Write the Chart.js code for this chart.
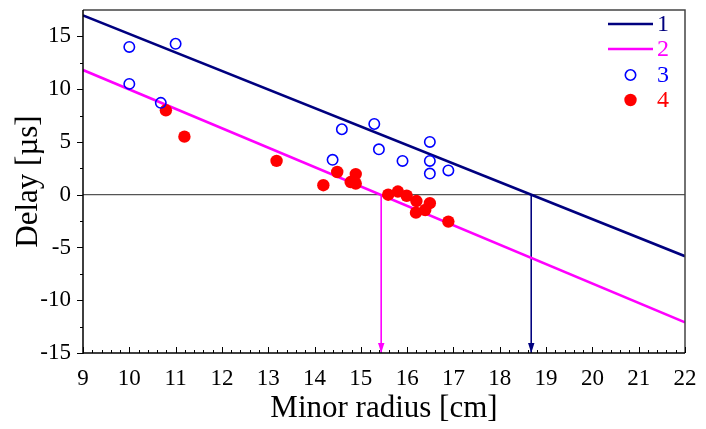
<!DOCTYPE html>
<html>
<head>
<meta charset="utf-8">
<script src="https://cdn.jsdelivr.net/npm/chart.js@4/dist/chart.umd.min.js"></script>
<style>
  body { margin: 0; background: #fff; }
</style>
</head>
<body>
<canvas id="myChart" width="706" height="429"></canvas>
<script>
// tick labels
const xTicks = [9, 10, 11, 12, 13, 14, 15, 16, 17, 18, 19, 20, 21, 22];
const yTicks = [-15, -10, -5, 0, 5, 10, 15];

// fitted lines (1, 2) - end points at the axis limits
const lineX = [9, 22];
const line1Y = [16.99, -5.83];
const line2Y = [11.81, -12.1];

// zero line and arrows where the lines cross zero
const zeroX = [9, 22];
const zeroY = [0, 0];
const arrowX = [15.44, 18.68];
const arrowY = [0, -15];

// series 3 (open circles)
const s3X = [10.0, 10.0, 11.0, 10.68, 14.39, 14.59, 15.29, 15.39, 15.9, 16.49, 16.49, 16.49, 16.89];
const s3Y = [14.0, 10.5, 14.3, 8.7, 3.3, 6.2, 6.7, 4.3, 3.2, 5.0, 3.2, 2.0, 2.3];

// series 4 (filled)
const s4X = [10.79, 11.19, 13.18, 14.19, 14.49, 14.89, 14.78, 14.89, 15.59, 15.8, 15.99, 16.2, 16.49, 16.39, 16.19, 16.89];
const s4Y = [8.0, 5.5, 3.2, 0.9, 2.15, 1.95, 1.2, 1.05, 0.0, 0.3, -0.1, -0.6, -0.8, -1.45, -1.7, -2.55];

const legendLabels = ['1', '2', '3', '4'];

const NAVY = '#00007f';
const MAGENTA = '#ff00ff';
const BLUE = '#0000ff';
const RED = '#ff0000';
const SERIF = '"Liberation Serif", "Times New Roman", serif';

function pts(xs, ys) {
  return xs.map((x, i) => ({ x: x, y: ys[i] }));
}

const data = {
  datasets: [
    {
      label: legendLabels[2],
      data: pts(s3X, s3Y),
      pointStyle: 'circle',
      pointRadius: 5.2,
      pointBorderWidth: 1.6,
      borderColor: BLUE,
      backgroundColor: 'rgba(0,0,0,0)',
      order: 0
    },
    {
      label: legendLabels[3],
      data: pts(s4X, s4Y),
      pointStyle: 'circle',
      pointRadius: 6.2,
      pointBorderWidth: 0,
      borderColor: RED,
      backgroundColor: RED,
      order: 0
    },
    {
      label: legendLabels[0],
      data: pts(lineX, line1Y),
      showLine: true,
      borderColor: NAVY,
      borderWidth: 2.6,
      pointRadius: 0,
      order: 1
    },
    {
      label: legendLabels[1],
      data: pts(lineX, line2Y),
      showLine: true,
      borderColor: MAGENTA,
      borderWidth: 2.6,
      pointRadius: 0,
      order: 1
    },
    {
      label: 'zero',
      data: pts(zeroX, zeroY),
      showLine: true,
      borderColor: '#555',
      borderWidth: 1.3,
      pointRadius: 0,
      order: 2
    },
    {
      label: 'arrow2',
      arrow: true,
      data: pts([arrowX[0], arrowX[0]], arrowY),
      showLine: true,
      borderColor: MAGENTA,
      borderWidth: 1,
      pointRadius: 0,
      order: 1
    },
    {
      label: 'arrow1',
      arrow: true,
      data: pts([arrowX[1], arrowX[1]], arrowY),
      showLine: true,
      borderColor: NAVY,
      borderWidth: 1,
      pointRadius: 0,
      order: 1
    }
  ]
};

// arrow heads at the lower end of the arrow datasets
const arrowHeads = {
  id: 'arrowHeads',
  afterDatasetsDraw(chart) {
    const ctx = chart.ctx;
    chart.data.datasets.forEach((ds, i) => {
      if (!ds.arrow) return;
      const meta = chart.getDatasetMeta(i);
      const p = meta.data[meta.data.length - 1];
      ctx.save();
      ctx.fillStyle = ds.borderColor;
      ctx.beginPath();
      ctx.moveTo(p.x, p.y);
      ctx.lineTo(p.x - 3.2, p.y - 10);
      ctx.lineTo(p.x + 3.2, p.y - 10);
      ctx.closePath();
      ctx.fill();
      ctx.restore();
    });
  }
};

// box frame, ticks (major + minor) and the legend
const frame = {
  id: 'frame',
  afterDraw(chart) {
    const ctx = chart.ctx;
    const a = chart.chartArea;
    const xs = chart.scales.x;
    const ys = chart.scales.y;
    ctx.save();
    ctx.lineWidth = 1.5;
    ctx.strokeStyle = '#444';
    ctx.beginPath();
    ctx.moveTo(a.left, a.top);
    ctx.lineTo(a.right, a.top);
    ctx.lineTo(a.right, a.bottom);
    ctx.stroke();
    ctx.strokeStyle = '#000';
    ctx.beginPath();
    ctx.moveTo(a.left, a.top);
    ctx.lineTo(a.left, a.bottom + 1);
    ctx.moveTo(a.left, a.bottom);
    ctx.lineTo(a.right, a.bottom);
    ctx.stroke();

    ctx.lineWidth = 1;
    ctx.beginPath();
    // y ticks point outwards
    yTicks.forEach(v => {
      const py = Math.round(ys.getPixelForValue(v)) + 0.5;
      ctx.moveTo(a.left - 6, py);
      ctx.lineTo(a.left, py);
      if (v < 15) {
        const pm = Math.round(ys.getPixelForValue(v + 2.5)) + 0.5;
        ctx.moveTo(a.left - 3, pm);
        ctx.lineTo(a.left, pm);
      }
    });
    // x ticks point inwards
    xTicks.forEach(v => {
      const px = Math.round(xs.getPixelForValue(v)) + 0.5;
      ctx.moveTo(px, a.bottom);
      ctx.lineTo(px, a.bottom - 6);
      if (v < 22) {
        for (let k = 1; k < 5; k++) {
          const pm = Math.round(xs.getPixelForValue(v + k * 0.2)) + 0.5;
          ctx.moveTo(pm, a.bottom);
          ctx.lineTo(pm, a.bottom - 3);
        }
      }
    });
    ctx.stroke();

    // legend
    const lx0 = a.right - 77, lx1 = a.right - 32, tx = a.right - 22;
    const rows = [a.top + 14, a.top + 39, a.top + 65, a.top + 90];
    ctx.lineWidth = 2.6;
    ctx.strokeStyle = NAVY;
    ctx.beginPath(); ctx.moveTo(lx0, rows[0]); ctx.lineTo(lx1, rows[0]); ctx.stroke();
    ctx.strokeStyle = MAGENTA;
    ctx.beginPath(); ctx.moveTo(lx0, rows[1]); ctx.lineTo(lx1, rows[1]); ctx.stroke();
    const mx = (lx0 + lx1) / 2;
    ctx.lineWidth = 1.6;
    ctx.strokeStyle = BLUE;
    ctx.beginPath(); ctx.arc(mx, rows[2], 5.2, 0, Math.PI * 2); ctx.stroke();
    ctx.fillStyle = RED;
    ctx.beginPath(); ctx.arc(mx, rows[3], 6.2, 0, Math.PI * 2); ctx.fill();

    ctx.font = '24px ' + SERIF;
    ctx.textAlign = 'center';
    ctx.textBaseline = 'middle';
    const cols = [NAVY, MAGENTA, BLUE, RED];
    legendLabels.forEach((t, i) => {
      ctx.fillStyle = cols[i];
      ctx.fillText(t, tx, rows[i] + 1);
    });
    ctx.restore();
  }
};

const config = {
  type: 'scatter',
  data: data,
  options: {
    responsive: false,
    animation: false,
    devicePixelRatio: 1,
    layout: { padding: { top: 10, right: 21, left: 0, bottom: 0 } },
    plugins: {
      legend: { display: false },
      tooltip: { enabled: false }
    },
    scales: {
      x: {
        type: 'linear',
        min: 9,
        max: 22,
        grid: { display: false },
        border: { display: false },
        afterBuildTicks: s => { s.ticks = xTicks.map(v => ({ value: v })); },
        afterFit: s => { s.height = 76; },
        ticks: {
          color: '#000',
          padding: 4,
          maxRotation: 0,
          font: { family: SERIF, size: 23 }
        },
        title: {
          display: true,
          text: 'Minor radius [cm]',
          color: '#000',
          padding: { top: 0, bottom: 2 },
          font: { family: SERIF, size: 31 }
        }
      },
      y: {
        type: 'linear',
        min: -15,
        max: 17.5,
        grid: { display: false },
        border: { display: false },
        afterBuildTicks: s => { s.ticks = yTicks.map(v => ({ value: v })); },
        afterFit: s => { s.width = 83; s.paddingTop = 0; s.paddingBottom = 0; },
        ticks: {
          color: '#000',
          padding: 4,
          font: { family: SERIF, size: 23 }
        },
        title: {
          display: true,
          text: 'Delay [µs]',
          color: '#000',
          padding: { top: 10, bottom: 0 },
          font: { family: SERIF, size: 31 }
        }
      }
    }
  },
  plugins: [arrowHeads, frame]
};

var myChart = new Chart(document.getElementById('myChart'), config);
</script>
</body>
</html>
